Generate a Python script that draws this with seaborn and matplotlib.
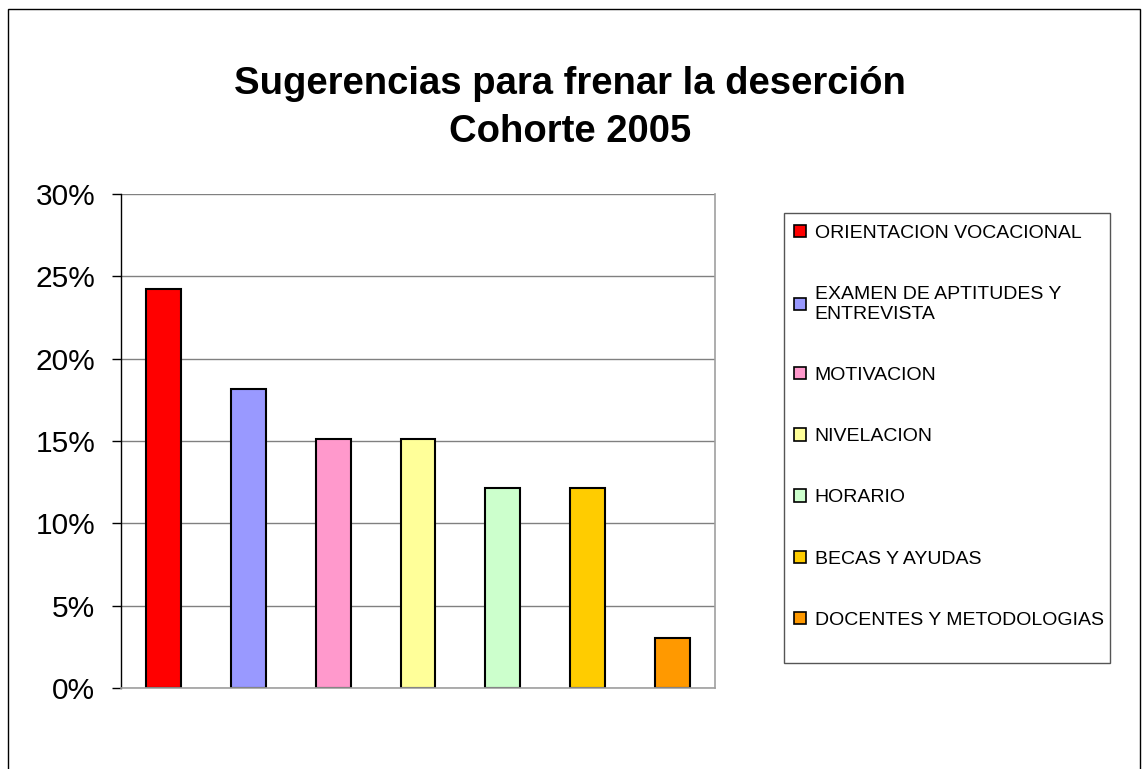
import numpy as np
import pandas as pd
import seaborn as sns
import matplotlib.pyplot as plt
from matplotlib.patches import Rectangle
from matplotlib.ticker import PercentFormatter, MultipleLocator

categorias = ["ORIENTACION VOCACIONAL", "EXAMEN DE APTITUDES Y\nENTREVISTA", "MOTIVACION",
              "NIVELACION", "HORARIO", "BECAS Y AYUDAS", "DOCENTES Y METODOLOGIAS"]
porcentajes = [24.24, 18.18, 15.15, 15.15, 12.12, 12.12, 3.03]
colores = ["#FF0000", "#9999FF", "#FF99CC", "#FFFF99", "#CCFFCC", "#FFCC00", "#FF9900"]
titulo = "Sugerencias para frenar la deserción\nCohorte 2005"

df = pd.DataFrame({"cat": categorias, "val": porcentajes})

sns.set_theme(style="white")
plt.rcParams["font.family"] = ["Liberation Sans", "DejaVu Sans"]
plt.rcParams["text.color"] = "black"
plt.rcParams["ytick.color"] = "black"
plt.rcParams["ytick.labelcolor"] = "black"

W, H = 1143, 769
fig = plt.figure(figsize=(W / 100, H / 100), dpi=100)
ax = fig.add_axes([121 / W, 1 - 688 / H, (715 - 121) / W, (688 - 194) / H])

sns.barplot(data=df, x="cat", y="val", hue="cat", palette=colores, width=0.41,
            saturation=1, edgecolor="black", linewidth=1.5, ax=ax, legend=True)
handles, labels = ax.get_legend_handles_labels()
ax.get_legend().remove()

ax.set_xlim(-0.5, len(categorias) - 0.5)
ax.set_ylim(0, 30)
ax.yaxis.set_major_locator(MultipleLocator(5))
ax.yaxis.set_major_formatter(PercentFormatter(xmax=100, decimals=0))
ax.set_xticks([])
ax.set_xlabel("")
ax.set_ylabel("")
ax.tick_params(axis="y", left=True, length=6.5, width=1, color="black", pad=12, labelsize=21.5)
ax.grid(axis="y", color="#808080", linewidth=1)
ax.set_axisbelow(True)
for s in ["top", "right", "bottom"]:
    ax.spines[s].set_color("#A0A0A0")
    ax.spines[s].set_linewidth(1.2)
ax.spines["top"].set_visible(False)
ax.spines["left"].set_color("black")
ax.spines["left"].set_linewidth(1)

fig.text(0.4985, 1 - 66 / H, titulo, ha="center", va="top", fontsize=27.5,
         fontweight="bold", linespacing=1.42)

# marco de la leyenda
fig.patches.append(Rectangle((784 / W, 1 - 663 / H), 326 / W, 450 / H,
                             transform=fig.transFigure, fill=False,
                             edgecolor="#555555", linewidth=1))
fig.legend(handles, labels, loc="upper left", bbox_to_anchor=(784 / W, 1 - 215 / H),
           frameon=False, fontsize=14, borderpad=0, labelspacing=2.27,
           handlelength=0.62, handleheight=0.62, handletextpad=0.46)
for h in fig.legends[0].legend_handles:
    h.set_edgecolor("black")
    h.set_linewidth(1.2)

# borde exterior
fig.patches.append(Rectangle((8 / W, -0.05), (1140 - 8) / W, 1.05 - 9 / H,
                             transform=fig.transFigure, fill=False,
                             edgecolor="black", linewidth=1))

fig.savefig("out.png", dpi=100)
